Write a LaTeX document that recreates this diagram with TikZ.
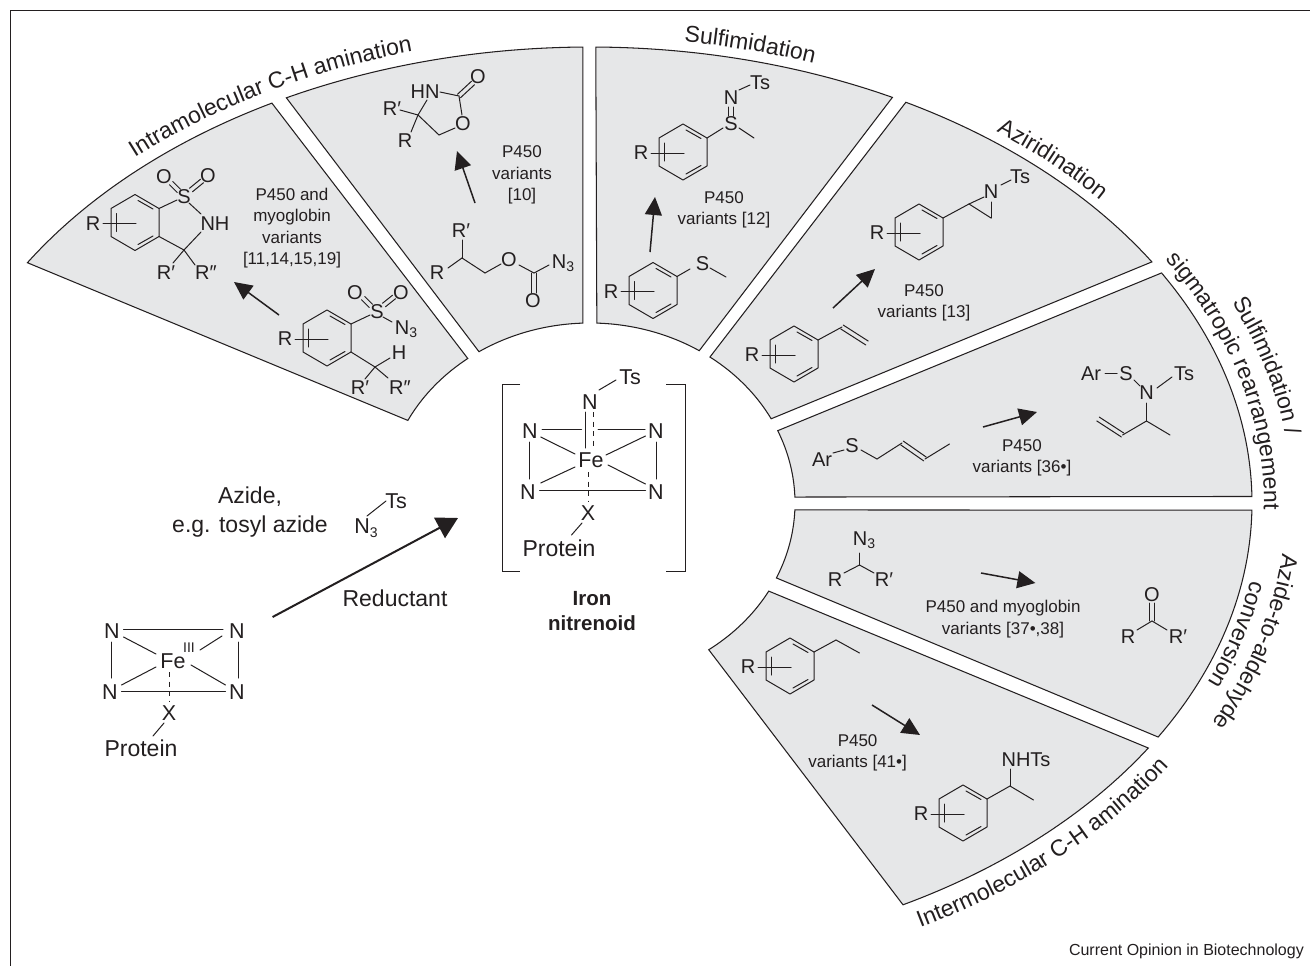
\documentclass[tikz,border=0pt]{standalone}
\usepackage{fontspec}
\setmainfont{Liberation Sans}
\usetikzlibrary{arrows.meta,calc,decorations.text}
\definecolor{ink}{HTML}{231F20}
\definecolor{secfill}{HTML}{E6E7E8}
\newcommand\fsz[1]{\fontsize{#1}{#1}\selectfont}
\newcommand\sub[1]{\raisebox{-3.5pt}{\fsz{14}#1}}
\tikzset{
  bond/.style={draw=ink,line width=1pt,line cap=round},
  dashbond/.style={draw=ink,line width=1pt,dash pattern=on 5pt off 4.5pt},
  sector/.style={draw=ink,fill=secfill,line width=1.05pt,line join=miter},
  atomlbl/.style={text=ink,inner sep=0pt,font=\fsz{20}},
  bigatom/.style={text=ink,inner sep=0pt,font=\fsz{21.5}},
  note/.style={text=ink,inner sep=0pt,font=\fsz{17}},
  biglbl/.style={text=ink,inner sep=0pt,font=\fsz{23}},
  rxnarrow/.style={draw=ink,fill=ink,line width=1.5pt,-{Triangle[length=18pt,width=17pt]}},
  mainarrow/.style={draw=ink,fill=ink,line width=2pt,-{Triangle[length=21pt,width=23pt]}},
}
\newcommand\sectorbox[4]{\draw[sector]
  plot[domain=0:1,samples=60] ({590+662*cos(#1+(#2-#1)*\x)},{503+456*sin(#1+(#2-#1)*\x)})
  -- plot[domain=0:1,samples=30] ({590+205*cos(#3+(#4-#3)*\x)},{503+180*sin(#3+(#4-#3)*\x)})
  -- cycle;}
\newcommand\arctext[5]{\path[decorate,decoration={text along path,text color=ink,text align=center,
    text={|\fsz{23}|#5}}]
  plot[domain=0:1,samples=80] ({590+#1*cos(#3+(#4-#3)*\x)},{503+#2*sin(#3+(#4-#3)*\x)});}
\newcommand\bond[2]{\draw[bond] (#1) -- (#2);}
\newcommand\dbl[2]{\draw[bond] ($(#1)!2.3pt!90:(#2)$) -- ($(#2)!2.3pt!-90:(#1)$);
  \draw[bond] ($(#1)!2.3pt!-90:(#2)$) -- ($(#2)!2.3pt!90:(#1)$);}
\newcommand\ring[3]{\begin{scope}[shift={(#2,#3)}]
  \draw[bond,line join=round] (0,-28) -- (24,-14) -- (24,14) -- (0,28) -- (-24,14) -- (-24,-14) -- cycle;
  \draw[bond] (-19,-9) -- (-19,9);
  \draw[bond] (3,-22) -- (18,-13.5);
  \draw[bond] (18,13.5) -- (3,22);
  \draw[bond] (-32,1) -- (1,1);
  \node[atomlbl] (R#1) at (-42,1) {R};
\end{scope}}
\begin{document}
\begin{tikzpicture}[x=1pt,y=-1pt]
\useasboundingbox (0,0) rectangle (1310,966);
\fill[white] (0,0) rectangle (1310,966);
\draw[ink,line width=1pt] (10,966) -- (10,11) -- (1310,11);

% sectors
\sectorbox{211.8}{241.3}{233.4}{207.3}
\sectorbox{242.7}{269.4}{268}{237.2}
\sectorbox{270.5}{297.2}{302.2}{271.9}
\sectorbox{298.5}{328.1}{332.1}{305.8}
\sectorbox{329.7}{359.2}{358.1}{336.3}
\sectorbox{0.9}{30.9}{24.6}{2.2}
\sectorbox{32.5}{61.8}{54.6}{29.3}

% curved titles
\arctext{674}{468}{220.7}{260.7}{Intramolecular C-H amination}
\arctext{672}{466}{268}{300}{Sulfimidation}
\arctext{672}{466}{298}{330}{Aziridination}
\arctext{674}{468}{325}{365}{sigmatropic rearrangement}
\arctext{702}{496}{329.5}{359.5}{Sulfimidation /}
\arctext{696}{490}{-0.5}{32.5}{Azide-to-aldehyde}
\arctext{670}{464}{4.5}{27.5}{conversion}
\arctext{690}{484}{67.5}{25.5}{Intermolecular C-H amination}

% --- sector 1 product
\ring{a}{135}{222.5}
\node[atomlbl] (a1) at (184,197) {S};
\node[atomlbl] (a2) at (164,177) {O};
\node[atomlbl] (a3) at (208,176) {O};
\node[atomlbl] (a4) at (215,224) {NH};
\node[atomlbl] (a5) at (166,273) {R′};
\node[atomlbl] (a6) at (206,273) {R″};
\bond{159,208.5}{177,200}
\dbl{171,183}{179,191}
\dbl{191,190}{202,181}
\bond{189,203}{201,214}
\bond{159,236.5}{184,250}
\bond{184,250}{201,232}
\bond{184,250}{173,263}
\bond{184,250}{195,265}
\node[note,align=center] (a7) at (292,228) {P450 and\\[4.5pt]myoglobin\\[4.5pt]variants\\[4.5pt]{[11,14,15,19]}};
\coordinate (a8) at (279,315); \coordinate (a9) at (234,282);
\draw[rxnarrow] (a8) -- (a9);

% --- sector 1 substrate
\ring{b}{327}{338}
\node[atomlbl] (b1) at (377,312) {S};
\node[atomlbl] (b2) at (355,293) {O};
\node[atomlbl] (b3) at (401,293) {O};
\node[atomlbl] (b4) at (406,329) {N\sub{3}};
\node[atomlbl] (b5) at (399,353) {H};
\node[atomlbl] (b6) at (360,388) {R′};
\node[atomlbl] (b7) at (400,388) {R″};
\bond{351,324}{370,315}
\dbl{363,298}{371,306}
\dbl{384,305}{394,297}
\bond{383,317}{392,322}
\bond{351,352}{375,367}
\bond{375,367}{390,358}
\bond{375,367}{365,379}
\bond{375,367}{388,378}

% --- sector 2 product
\node[atomlbl] (c1) at (425,92) {HN};
\node[atomlbl] (c2) at (478,77) {O};
\node[atomlbl] (c3) at (463,124) {O};
\node[atomlbl] (c4) at (392,109) {R′};
\node[atomlbl] (c5) at (405,141) {R};
\bond{440,92}{459,96}
\dbl{459,96}{473,83}
\bond{459,96}{462,115}
\bond{455,128}{439,135}
\bond{439,135}{418,115}
\bond{418,115}{427,100}
\bond{418,115}{400,110}
\bond{418,115}{411,132}
\node[note,align=center] (c6) at (522,175) {P450\\[4.5pt]variants\\[4.5pt]{[10]}};
\coordinate (c7) at (475,203); \coordinate (c8) at (457,151);
\draw[rxnarrow] (c7) -- (c8);

% --- sector 2 substrate
\node[atomlbl] (d1) at (461,231) {R′};
\node[atomlbl] (d2) at (437,273) {R};
\node[atomlbl] (d3) at (509,260) {O};
\node[atomlbl] (d4) at (563,263) {N\sub{3}};
\node[atomlbl] (d5) at (533,301) {O};
\bond{448,268}{462,258}
\bond{462,258}{462,240}
\bond{462,258}{485,273}
\bond{485,273}{501,264}
\bond{519,265}{534,273}
\bond{534,273}{549,265}
\dbl{534,273}{534,293}

% --- sector 3 product
\ring{e}{683}{152}
\node[atomlbl] (e1) at (731,124) {S};
\node[atomlbl] (e2) at (731,98) {N};
\node[atomlbl] (e3) at (760,83) {Ts};
\bond{707,138}{723,128}
\bond{739,128}{754,138}
\dbl{731,107}{731,116}
\bond{739,90}{750,85}
\node[note,align=center] (e4) at (724,210) {P450\\[4.5pt]variants [12]};
\coordinate (e5) at (650,252); \coordinate (e6) at (655,197);
\draw[rxnarrow] (e5) -- (e6);

% --- sector 3 substrate
\ring{f}{653}{290.5}
\node[atomlbl] (f1) at (702.5,264) {S};
\bond{677,276.5}{690,269}
\bond{710,268}{726,277}

% --- sector 4 product
\ring{g}{919}{232}
\node[atomlbl] (g1) at (991,192) {N};
\node[atomlbl] (g2) at (1020,177) {Ts};
\bond{943,218}{969,204}
\bond{969,204}{984,197}
\bond{991,202}{991,218}
\bond{969,204}{991,218}
\bond{1001,185}{1011,180}
\node[note,align=center] (g3) at (924,303) {P450\\[4.5pt]variants [13]};
\coordinate (g4) at (833,308); \coordinate (g5) at (875,269);
\draw[rxnarrow] (g4) -- (g5);

% --- sector 4 substrate
\ring{h}{794}{354}
\bond{818,340}{842,327}
\dbl{842,327}{867,343}

% --- sector 5
\node[atomlbl] (i1) at (822,460) {Ar};
\node[atomlbl] (i2) at (852,446) {S};
\bond{833,453}{844,450}
\bond{861,450}{877,459}
\bond{877,459}{902,443}
\dbl{902,443}{925,459}
\bond{925,459}{949.5,444}
\coordinate (i3) at (983,427); \coordinate (i4) at (1037,412);
\draw[rxnarrow] (i3) -- (i4);
\node[note,align=center] (i5) at (1022,458) {P450\\[4.5pt]variants [36•]};
\node[atomlbl] (i6) at (1091,374) {Ar};
\node[atomlbl] (i7) at (1126,374) {S};
\node[atomlbl] (i8) at (1146.5,393) {N};
\node[atomlbl] (i9) at (1184,374) {Ts};
\bond{1105,373}{1117,373}
\bond{1134,380}{1140,386}
\bond{1157,388}{1172,377}
\bond{1146.5,403}{1146.5,421}
\bond{1146.5,421}{1170,435}
\bond{1146.5,421}{1122.6,435}
\dbl{1122.6,435}{1098,419}

% --- sector 6
\node[atomlbl] (j1) at (864,540) {N\sub{3}};
\node[atomlbl] (j2) at (835,580) {R};
\node[atomlbl] (j3) at (884,580) {R′};
\bond{859.5,553}{859.5,565}
\bond{859.5,565}{844,573}
\bond{859.5,565}{874,573}
\coordinate (j4) at (981,573); \coordinate (j5) at (1035.4,583);
\draw[rxnarrow] (j4) -- (j5);
\node[note,align=center] (j6) at (1003,619) {P450 and myoglobin\\[4.5pt]variants [37•,38]};
\node[atomlbl] (j7) at (1152,595) {O};
\node[atomlbl] (j8) at (1128,637) {R};
\node[atomlbl] (j9) at (1178,637) {R′};
\dbl{1152,603}{1152,621}
\bond{1152,621}{1137,630}
\bond{1152,621}{1167,630}

% --- sector 7
\ring{k}{790}{666}
\bond{814,652}{836,640}
\bond{836,640}{859.5,653}
\coordinate (k1) at (872,705); \coordinate (k2) at (920,735);
\draw[rxnarrow] (k1) -- (k2);
\node[note,align=center] (k3) at (857.6,753) {P450\\[4.5pt]variants [41•]};
\ring{l}{963}{813}
\bond{987,799}{1010,786}
\bond{1010,786}{1033.5,800}
\bond{1010,786}{1010,769}
\node[atomlbl] (l1) at (1026,760) {NHTs};

% --- Fe(III) complex
\node[bigatom] (m1) at (112,631) {N};
\node[bigatom] (m2) at (237,631) {N};
\node[bigatom] (m3) at (110,692) {N};
\node[bigatom] (m4) at (237,692) {N};
\node[bigatom] (m5) at (173,661) {Fe};
\node[text=ink,inner sep=0pt,font=\fsz{14}] (m6) at (189,648) {III};
\node[bigatom] (m7) at (169,713) {X};
\node[biglbl] (m8) at (141,748) {Protein};
\bond{123.5,629}{223,629}
\bond{111,642}{111,678}
\bond{238,642}{238,678}
\bond{121.5,691}{225.5,691}
\bond{123.5,637}{156,654}
\bond{121.5,685}{156,667}
\bond{222,636}{200,650}
\bond{191,665}{225.5,685}
\draw[dashbond] (169,672) -- (169,702);
\bond{164,723}{153,736}

% --- azide text
\node[biglbl] (n1) at (250,497) {Azide,};
\node[biglbl] (n2) at (250,527) {e.g. tosyl azide};
\node[bigatom] (n3) at (396,501) {Ts};
\node[bigatom] (n4) at (366,528) {N\sub{3}};
\bond{367,516}{386,501}
\coordinate (n5) at (272.6,617); \coordinate (n6) at (458,518);
\draw[mainarrow] (n5) -- (n6);
\node[biglbl] (n7) at (395,598) {Reductant};

% --- nitrenoid
\node[bigatom] (o1) at (590,402) {N};
\node[bigatom] (o2) at (630,377) {Ts};
\node[bigatom] (o3) at (530,431) {N};
\node[bigatom] (o4) at (656,431) {N};
\node[bigatom] (o5) at (528,492) {N};
\node[bigatom] (o6) at (656,492) {N};
\node[bigatom] (o7) at (591,460) {Fe};
\node[bigatom] (o8) at (588,513) {X};
\node[biglbl] (o9) at (559,548) {Protein};
\bond{599,390}{616,380}
\bond{542,429}{581.5,429}
\bond{598,429}{645,429}
\bond{539.5,490}{645.5,490}
\bond{529.6,442}{529.6,479}
\bond{656,442}{656,479}
\bond{540.7,437}{575,454}
\bond{540.7,483}{575,467}
\bond{645.5,436}{606,455}
\bond{608,465}{645.5,484}
\bond{585,412}{585,448}
\draw[dashbond] (593,412) -- (593,448);
\draw[dashbond] (588,472) -- (588,502);
\bond{582,523}{571.5,535}
\draw[bond,line cap=butt] (520,384) -- (502,384) -- (502,571) -- (520,571);
\draw[bond,line cap=butt] (666,384) -- (685,384) -- (685,571) -- (666,571);
\node[text=ink,inner sep=0pt,font=\fsz{20.5}\bfseries,align=center] (o10) at (592,611) {Iron\\[4pt]nitrenoid};

\node[text=ink,inner sep=0pt,font=\fsz{16},anchor=east] (p1) at (1304,951) {Current Opinion in Biotechnology};
\end{tikzpicture}
\end{document}
